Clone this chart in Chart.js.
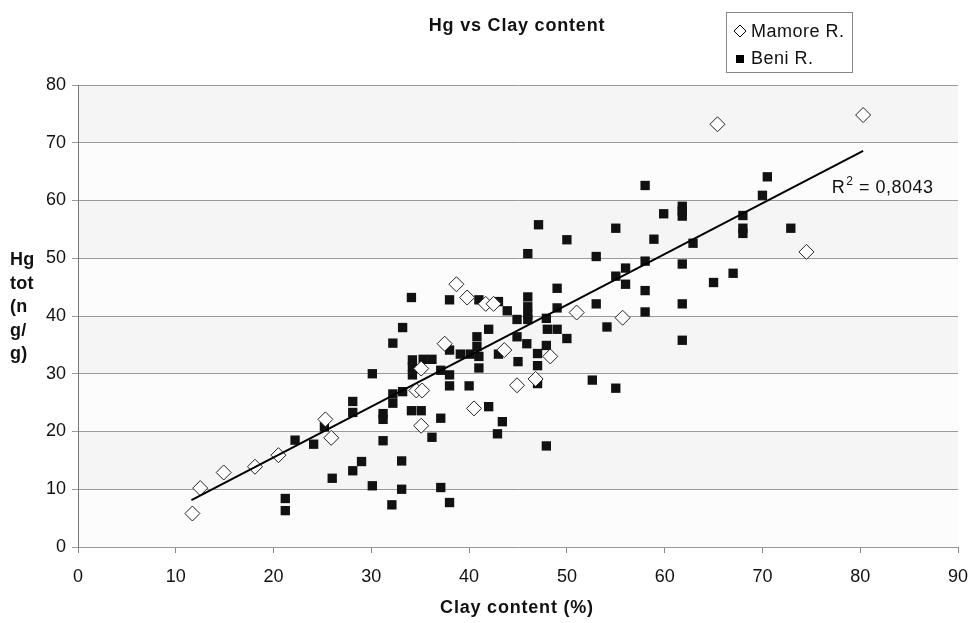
<!DOCTYPE html>
<html>
<head>
<meta charset="utf-8">
<script src="https://cdn.jsdelivr.net/npm/chart.js@4.4.1/dist/chart.umd.min.js"></script>
<style>
  body { margin: 0; background: #fff; }
  #wrap { width: 969px; height: 623px; }
</style>
</head>
<body>
<div id="wrap"><canvas id="myChart" width="969" height="623"></canvas></div>
<script>
// Mamore R. samples (clay %, Hg ng/g)
const mamoreX = [11.7, 12.5, 14.9, 18.1, 20.5, 25.3, 25.9, 34.6, 35.2, 35.1, 35.1, 37.5, 38.7, 39.8, 41.7, 42.5, 40.5, 43.6, 44.9, 46.8, 48.3, 51.0, 55.7, 65.4, 80.3, 74.5];
const mamoreY = [5.8, 10.2, 12.9, 13.9, 15.9, 22.1, 18.9, 27.1, 27.1, 30.9, 21.0, 35.2, 45.5, 43.2, 42.1, 42.1, 24.0, 34.1, 28.0, 29.1, 33.0, 40.6, 39.7, 73.2, 74.8, 51.1];

// Beni R. samples
const beniX = [21.2, 21.2, 22.2, 24.1, 25.2, 26.0, 28.1, 28.1, 28.1, 29.0, 30.1, 30.1, 31.2, 31.2, 31.2, 32.1, 32.2, 32.2, 32.2, 33.2,
  33.1, 33.1, 33.2, 34.1, 34.2, 34.2, 34.2, 34.1, 35.3, 35.1, 36.2, 36.2, 37.1, 37.1, 37.1, 38.0, 38.0, 38.0, 38.0, 38.0,
  39.1, 40.1, 40.0, 41.0, 40.8, 40.8, 41.0, 41.0, 42.0, 42.0, 43.0, 43.0, 42.9, 43.4, 43.9, 44.9, 44.9, 45.0, 45.9, 46.0,
  46.0, 46.0, 46.0, 46.0, 47.1, 47.0, 47.0, 47.0, 47.9, 48.0, 47.9, 47.9, 49.0, 49.0, 49.0, 50.0, 50.0, 52.6, 53.0, 53.0,
  54.1, 55.0, 55.0, 55.0, 56.0, 56.0, 58.0, 58.0, 58.0, 58.0, 58.9, 59.9, 61.8, 61.8, 61.8, 61.8, 61.8, 61.8, 62.9, 65.0,
  67.0, 68.0, 68.0, 68.0, 70.0, 70.5, 72.9];
const beniY = [8.4, 6.3, 18.5, 17.8, 20.8, 11.9, 13.2, 25.2, 23.3, 14.8, 30.0, 10.6, 23.1, 22.1, 18.4, 7.3, 26.5, 24.9, 35.3, 38.0,
  14.9, 10.0, 26.9, 43.2, 32.4, 31.2, 29.8, 23.6, 32.5, 23.6, 32.5, 19.0, 30.6, 22.3, 10.3, 29.8, 42.8, 34.1, 27.9, 7.7,
  33.4, 33.4, 27.9, 42.8, 36.4, 34.7, 33.0, 31.0, 37.7, 24.3, 42.5, 33.4, 19.6, 21.7, 40.9, 39.4, 36.4, 32.1, 35.2, 50.8,
  43.3, 41.6, 40.2, 39.4, 55.8, 33.5, 31.4, 28.3, 39.6, 37.7, 34.9, 17.5, 44.8, 41.4, 37.7, 53.2, 36.1, 28.9, 50.3, 42.1,
  38.1, 55.2, 46.9, 27.5, 48.3, 45.5, 62.6, 49.5, 44.4, 40.7, 53.3, 57.7, 59.0, 58.2, 57.3, 49.0, 42.1, 35.8, 52.6, 45.8,
  47.4, 57.4, 55.2, 54.3, 60.9, 64.1, 55.2];

// linear trend line ends
const trendX = [11.6, 80.3];
const trendY = [8.1, 68.6];
const r2Label = "0,8043";

const xTicks = [0, 10, 20, 30, 40, 50, 60, 70, 80, 90];
const yTicks = [0, 10, 20, 30, 40, 50, 60, 70, 80];

const toPoints = (xs, ys) => xs.map((x, i) => ({x: x, y: ys[i]}));

const FONT = "'Liberation Sans', Arial, sans-serif";

const decorations = {
    id: 'decorations',
    beforeDraw: (chart) => {
        const ctx = chart.ctx;
        const a = chart.chartArea;
        const y = chart.scales.y;
        ctx.save();
        ctx.fillStyle = '#ffffff';
        ctx.fillRect(0, 0, chart.width, chart.height);
        // alternating bands
        for (let i = 0; i < yTicks.length - 1; i++) {
            const top = y.getPixelForValue(yTicks[i + 1]);
            const bot = y.getPixelForValue(yTicks[i]);
            ctx.fillStyle = (i % 2 === 1) ? '#f5f5f5' : '#fcfcfc';
            ctx.fillRect(a.left, top, a.right - a.left, bot - top);
        }
        ctx.restore();
    },
    afterDraw: (chart) => {
        const ctx = chart.ctx;
        const xs = chart.scales.x, ys = chart.scales.y;
        ctx.save();
        ctx.fillStyle = '#111';
        ctx.letterSpacing = '0.8px';
        // title
        ctx.font = 'bold 18px ' + FONT;
        ctx.textAlign = 'center';
        ctx.textBaseline = 'middle';
        ctx.fillText('Hg vs Clay content', 517, 26);
        // x title
        ctx.fillText('Clay content (%)', 517, 608);
        // y title
        ctx.textAlign = 'left';
        ctx.textBaseline = 'alphabetic';
        ctx.letterSpacing = '0.3px';
        const yLines = ['Hg', 'tot', '(n', 'g/', 'g)'];
        yLines.forEach((t, i) => ctx.fillText(t, 10, 265 + i * 23.5));
        // R2 label
        ctx.letterSpacing = '0.5px';
        ctx.font = '18px ' + FONT;
        const rx = xs.getPixelForValue(77.1);
        const ry = ys.getPixelForValue(61.3);
        ctx.fillText('R', rx, ry);
        let w = ctx.measureText('R').width;
        ctx.font = '12px ' + FONT;
        ctx.fillText('2', rx + w + 1, ry - 8);
        w += ctx.measureText('2').width + 1;
        ctx.font = '18px ' + FONT;
        ctx.fillText(' = ' + r2Label, rx + w, ry);
        // legend box
        ctx.strokeStyle = '#888';
        ctx.lineWidth = 1;
        ctx.fillStyle = '#fff';
        ctx.fillRect(726.5, 12.5, 126, 60);
        ctx.strokeRect(726.5, 12.5, 126, 60);
        ctx.strokeStyle = '#000';
        ctx.beginPath();
        ctx.moveTo(740, 25); ctx.lineTo(746, 31); ctx.lineTo(740, 37); ctx.lineTo(734, 31); ctx.closePath();
        ctx.stroke();
        ctx.fillStyle = '#000';
        ctx.fillRect(736, 55, 8, 8);
        ctx.fillStyle = '#111';
        ctx.font = '18px ' + FONT;
        ctx.textBaseline = 'middle';
        ctx.fillText('Mamore R.', 751, 32);
        ctx.fillText('Beni R.', 751, 59);
        ctx.restore();
    }
};

const ctx = document.getElementById('myChart').getContext('2d');

const myChart = new Chart(ctx, {
    type: 'scatter',
    plugins: [decorations],
    data: {
        datasets: [{
            label: 'trend',
            type: 'line',
            data: toPoints(trendX, trendY),
            borderColor: '#000',
            borderWidth: 2,
            pointRadius: 0,
            fill: false,
            order: 0
        }, {
            label: 'Mamore R.',
            data: toPoints(mamoreX, mamoreY),
            pointStyle: 'rectRot',
            pointRadius: 7.5,
            pointHoverRadius: 7.5,
            backgroundColor: '#fff',
            borderColor: '#222',
            borderWidth: 1,
            order: 1
        }, {
            label: 'Beni R.',
            data: toPoints(beniX, beniY),
            pointStyle: 'rect',
            pointRadius: 6.6,
            pointHoverRadius: 6.6,
            backgroundColor: '#111',
            borderColor: '#111',
            borderWidth: 0,
            order: 2
        }]
    },
    options: {
        responsive: false,
        animation: false,
        layout: { padding: { top: 85, right: 11, left: 0, bottom: 0 } },
        plugins: {
            legend: { display: false },
            tooltip: { enabled: false }
        },
        scales: {
            x: {
                type: 'linear',
                min: 0, max: 90,
                afterBuildTicks: (s) => { s.ticks = xTicks.map(v => ({value: v})); },
                afterFit: (s) => { s.height = 76; s.paddingLeft = 0; s.paddingRight = 0; },
                grid: { drawOnChartArea: false, color: '#888', tickLength: 6 },
                border: { display: false },
                ticks: { color: '#111', font: { family: FONT, size: 18 }, padding: 13, maxRotation: 0 }
            },
            y: {
                type: 'linear',
                min: 0, max: 80,
                afterBuildTicks: (s) => { s.ticks = yTicks.map(v => ({value: v})); },
                afterFit: (s) => { s.width = 78; s.paddingTop = 0; s.paddingBottom = 0; },
                grid: { color: '#9a9a9a', tickLength: 6 },
                border: { color: '#777' },
                ticks: { color: '#111', font: { family: FONT, size: 18 }, padding: 6 }
            }
        }
    }
});
</script>
</body>
</html>
